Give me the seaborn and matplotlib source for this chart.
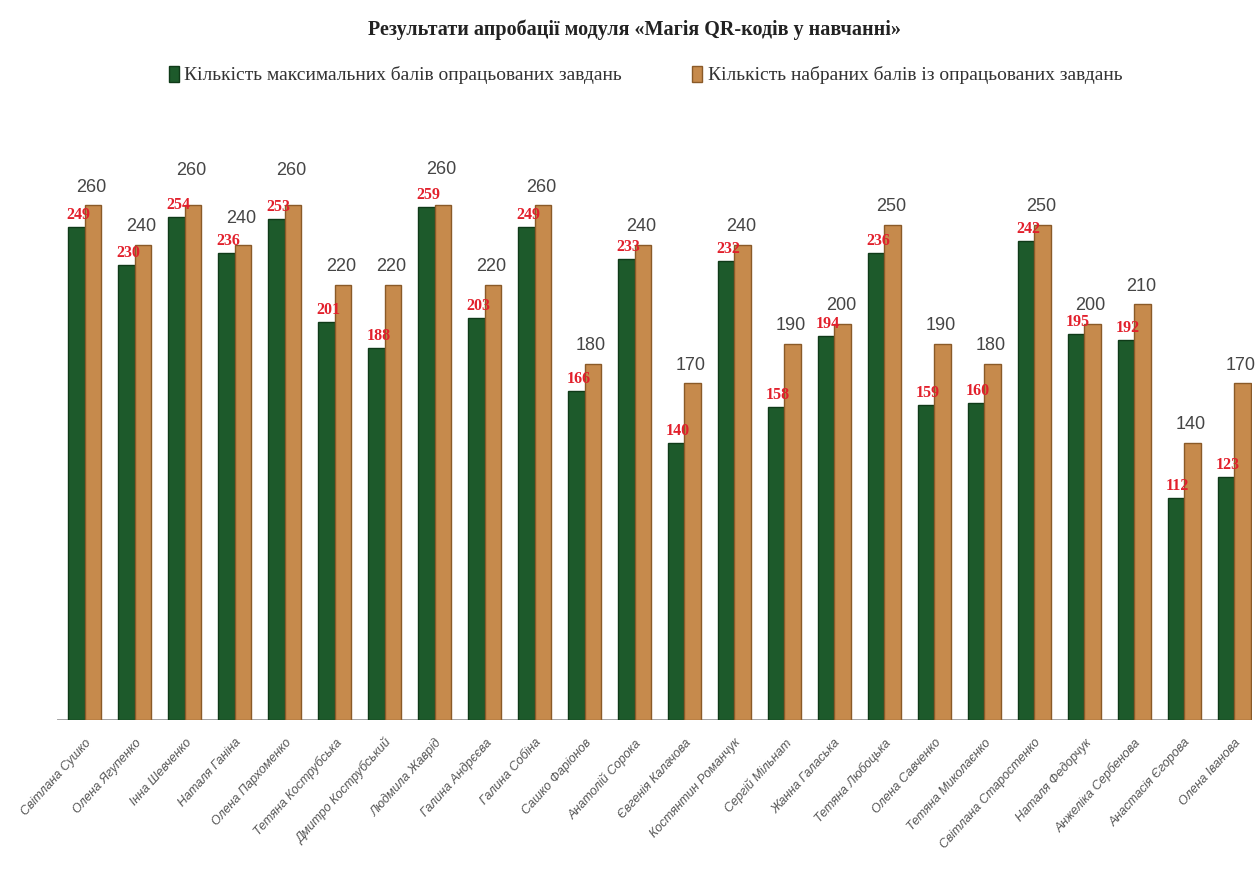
import matplotlib
matplotlib.use("Agg")
import matplotlib.pyplot as plt
import seaborn as sns
import pandas as pd

title = "Результати апробації модуля «Магія QR-кодів у навчанні»"
names = ["Світлана Сушко", "Олена Ягупенко", "Інна Шевченко", "Наталя Ганіна",
         "Олена Пархоменко", "Тетяна Кострубська", "Дмитро Кострубський",
         "Людмила Жаврід", "Галина Андрєєва", "Галина Собіна", "Сашко Фаріонов",
         "Анатолій Сорока", "Євгенія Калачова", "Костянтин Романчук",
         "Сергій Мільнат", "Жанна Галаська", "Тетяна Любоцька", "Олена Савченко",
         "Тетяна Миколаєнко", "Світлана Старостенко", "Наталя Федорчук",
         "Анжеліка Сербенова", "Анастасія Єгорова", "Олена Іванова"]
series_green_label = "Кількість максимальних балів опрацьованих завдань"
series_orange_label = "Кількість набраних балів із опрацьованих завдань"
green_values = [249, 230, 254, 236, 253, 201, 188, 259, 203, 249, 166, 233,
                140, 232, 158, 194, 236, 159, 160, 242, 195, 192, 112, 123]
orange_values = [260, 240, 260, 240, 260, 220, 220, 260, 220, 260, 180, 240,
                 170, 240, 190, 200, 250, 190, 180, 250, 200, 210, 140, 170]

df = pd.DataFrame({
    "name": names * 2,
    "series": [series_green_label] * len(names) + [series_orange_label] * len(names),
    "value": green_values + orange_values,
})

sns.set_theme(style="white")
plt.rcParams["font.family"] = ["Liberation Sans", "DejaVu Sans"]

GREEN = "#1d5a2b"
ORANGE = "#c68a4c"

fig = plt.figure(figsize=(12.56, 8.75), dpi=100)
ax = fig.add_axes([57 / 1256, 1 - 720 / 875, (1252 - 57) / 1256, 580 / 875])

sns.barplot(data=df, x="name", y="value", hue="series",
            hue_order=[series_green_label, series_orange_label],
            palette=[GREEN, ORANGE], width=0.66, dodge=True,
            legend=False, ax=ax, saturation=1, errorbar=None)

edge_cols = ["#0f3a18", "#8a5a28"]
for cont, ec in zip(ax.containers, edge_cols):
    for bar in cont:
        bar.set_edgecolor(ec)
        bar.set_linewidth(1.0)

ax.set_xlim(-0.56, 23.36)
ax.set_ylim(0, 293)
for s in ax.spines.values():
    s.set_visible(False)
ax.set_yticks([])
ax.set_xlabel("")
ax.set_ylabel("")
ax.axhline(0, color="#9a9a9a", lw=2, zorder=0)

# green (red) labels
for bar in ax.containers[0]:
    h = bar.get_height()
    ax.text(bar.get_x() + bar.get_width() * 0.62, h + 2, f"{int(h)}",
            ha="center", va="bottom", color="#e2202c",
            family=["Liberation Serif", "DejaVu Serif"], fontsize=11.5,
            fontweight="bold", zorder=5)
# orange (gray) labels; a few lifted to clear the red labels, as in the reference
lift = {2: 12, 3: 6, 4: 12, 7: 13}
for i, bar in enumerate(ax.containers[1]):
    h = bar.get_height()
    ax.annotate(f"{int(h)}", (bar.get_x() + bar.get_width() * 0.4, h),
                xytext=(0, 7 + lift.get(i, 0)), textcoords="offset points",
                ha="center", va="bottom", color="#454545",
                family=["Liberation Sans Narrow", "Liberation Sans"],
                fontsize=13, zorder=5)

ax.set_xticks(range(len(names)))
ax.set_xticklabels(names, rotation=48, ha="right", rotation_mode="anchor",
                   fontsize=9, fontstyle="italic", color="#555555")
ax.tick_params(axis="x", length=0, pad=12)

fig.text(0.505, 1 - 30 / 875, title, ha="center", va="center",
         family=["Liberation Serif", "DejaVu Serif"], fontsize=14.5,
         fontweight="bold", color="#222222")

handles = [ax.containers[0][0], ax.containers[1][0]]
fig.legend(handles, [series_green_label, series_orange_label],
           loc="center", bbox_to_anchor=(0.514, 1 - 75 / 875), ncol=2,
           frameon=False, handlelength=0.5, handleheight=0.9,
           handletextpad=0.3, columnspacing=3.6,
           prop={"family": "Liberation Serif", "size": 14})
for t in fig.legends[0].get_texts():
    t.set_color("#333333")

fig.savefig("out.png", dpi=100)
